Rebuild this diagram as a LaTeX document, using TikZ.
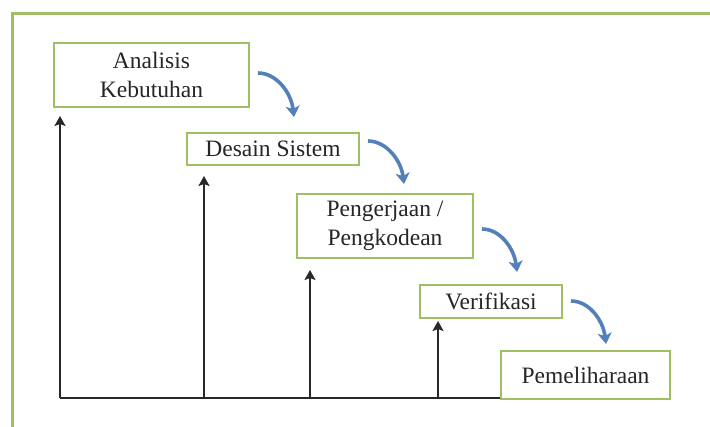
\documentclass[tikz,border=0pt]{standalone}
\usepackage{fontspec}
\setmainfont{Liberation Serif}
\usetikzlibrary{arrows.meta}
\definecolor{framegreen}{RGB}{160,190,100}
\definecolor{flowblue}{RGB}{84,128,186}
\definecolor{axisgrey}{RGB}{40,40,40}
\tikzset{
  stagebox/.style={draw=framegreen, line width=2.2pt, fill=white, align=center,
    font=\fontsize{23.5}{29}\selectfont, text=black!85, inner sep=0pt},
  flowarrow/.style={draw=flowblue, line width=3.6pt, -{Stealth[length=11pt,width=14pt,inset=3pt]}},
  uparrow/.style={draw=axisgrey, line width=2.6pt, -{Stealth[length=10pt,width=11pt,inset=2pt]}},
  axisline/.style={draw=axisgrey, line width=2.6pt},
}
\begin{document}
\begin{tikzpicture}[x=1pt,y=-1pt]
\useasboundingbox (0,0) rectangle (710,427);
\clip (0,0) rectangle (710,427);
\fill[white] (0,0) rectangle (710,427);
\draw[framegreen, line width=3pt] (12,14) rectangle (740,460);

\node[stagebox, minimum width=195pt, minimum height=64pt] (s1) at (151.5,75) {Analisis\\Kebutuhan};
\node[stagebox, minimum width=172pt, minimum height=32pt] (s2) at (273,149) {Desain Sistem};
\node[stagebox, minimum width=176pt, minimum height=64pt] (s3) at (385,226) {Pengerjaan /\\Pengkodean};
\node[stagebox, minimum width=142pt, minimum height=33pt] (s4) at (491,301.5) {Verifikasi};
\node[stagebox, minimum width=169pt, minimum height=48pt] (s5) at (585.5,375) {Pemeliharaan};

% baseline and vertical arrows
\coordinate (b1) at (60,398);
\coordinate (b2) at (204,398);
\coordinate (b3) at (310,398);
\coordinate (b4) at (438,398);
\coordinate (t1) at (60,116);
\coordinate (t2) at (204,176);
\coordinate (t3) at (310,270);
\coordinate (t4) at (438,321);
\draw[axisline] (b1) -- (s5.south west |- b1);
\draw[uparrow] (b1) -- (t1);
\draw[uparrow] (b2) -- (t2);
\draw[uparrow] (b3) -- (t3);
\draw[uparrow] (b4) -- (t4);

% curved flow arrows
\coordinate (c1s) at (258,73);
\coordinate (c1e) at (294,117);
\coordinate (c2s) at (368,141);
\coordinate (c2e) at (404,184);
\coordinate (c3s) at (482,229);
\coordinate (c3e) at (517,272);
\coordinate (c4s) at (571,301);
\coordinate (c4e) at (606,344);
\draw[flowarrow] (c1s) .. controls (276,73) and (291,92) .. (c1e);
\draw[flowarrow] (c2s) .. controls (386,141) and (401,160) .. (c2e);
\draw[flowarrow] (c3s) .. controls (500,229) and (514,248) .. (c3e);
\draw[flowarrow] (c4s) .. controls (589,301) and (603,320) .. (c4e);
\end{tikzpicture}
\end{document}
